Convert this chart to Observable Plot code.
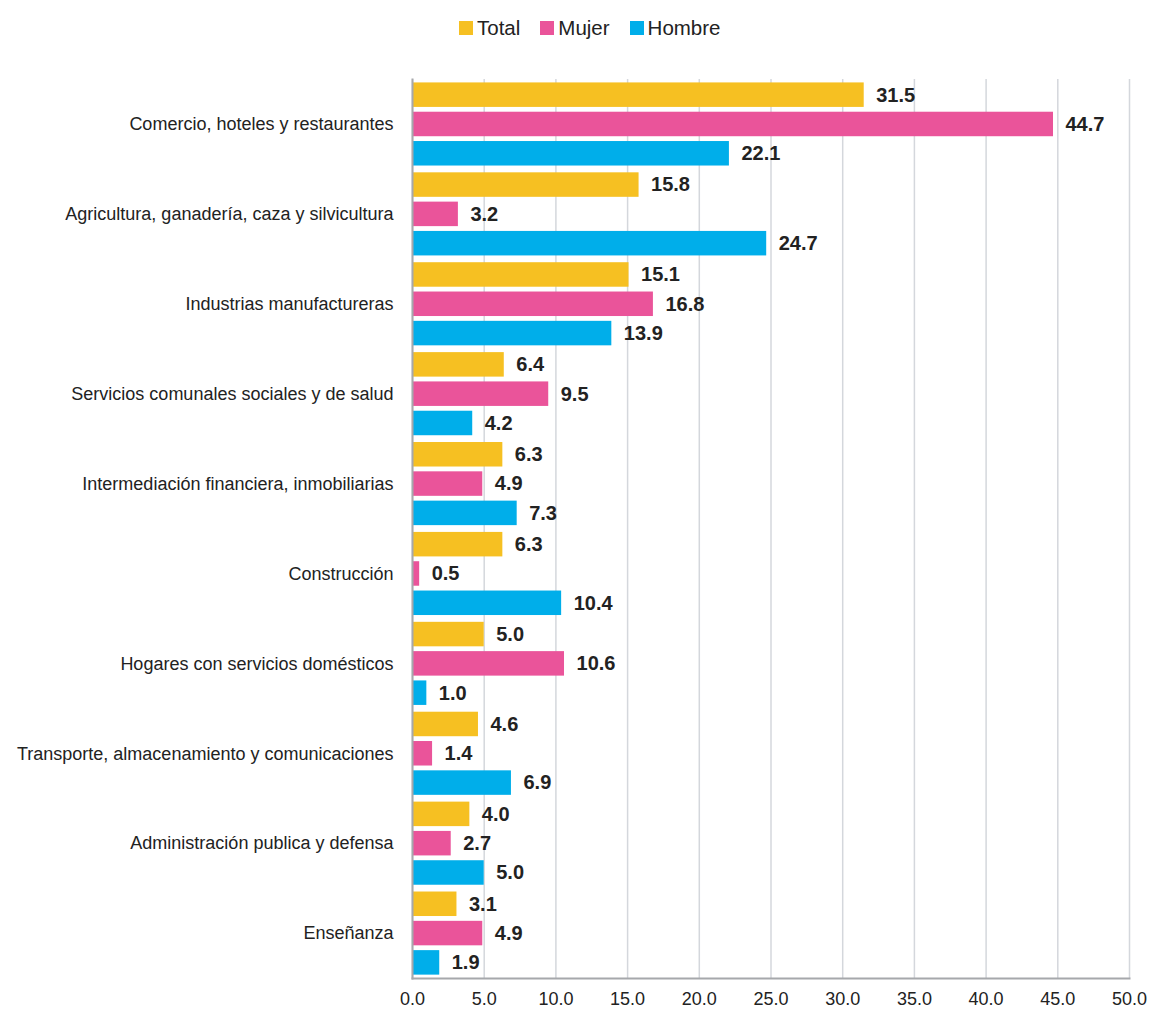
<!DOCTYPE html>
<html>
<head>
<meta charset="utf-8">
<script src="https://cdn.jsdelivr.net/npm/d3@7"></script>
<script src="https://cdn.jsdelivr.net/npm/@observablehq/plot@0.6"></script>
<style>
  body { margin: 0; background: #fff; font-family: "Liberation Sans Narrow", "Liberation Sans", Arial, sans-serif; }
  #wrap { position: relative; width: 1149px; height: 1018px; }
  #chart { position: absolute; top: 0; left: 0; z-index: 0; }
  #legend { position: absolute; top: 16px; left: 459px; z-index: 2; display: flex; align-items: center; font-size: 20.5px; color: #222; white-space: nowrap; }
  .item { display: flex; align-items: center; margin-right: 20px; }
  .sw { width: 14px; height: 14px; margin-right: 4px; }
</style>
</head>
<body>
<div id="wrap">
  <div id="chart"></div>
  <div id="legend"></div>
</div>
<script>
const categories = [
  "Comercio, hoteles y restaurantes",
  "Agricultura, ganadería, caza y silvicultura",
  "Industrias manufactureras",
  "Servicios comunales sociales y de salud",
  "Intermediación financiera, inmobiliarias",
  "Construcción",
  "Hogares con servicios domésticos",
  "Transporte, almacenamiento y comunicaciones",
  "Administración publica y defensa",
  "Enseñanza"
];
const series = ["Total", "Mujer", "Hombre"];
const colors = ["#F6C022", "#EA549A", "#00AEEA"];
const total  = [31.5, 15.8, 15.1, 6.4, 6.3, 6.3, 5.0, 4.6, 4.0, 3.1];
const mujer  = [44.7, 3.2, 16.8, 9.5, 4.9, 0.5, 10.6, 1.4, 2.7, 4.9];
const hombre = [22.1, 24.7, 13.9, 4.2, 7.3, 10.4, 1.0, 6.9, 5.0, 1.9];
const xTicks = [0, 5, 10, 15, 20, 25, 30, 35, 40, 45, 50];

const valuesBySeries = [total, mujer, hombre];
const data = [];
categories.forEach((c, i) => series.forEach((s, j) => data.push({cat: c, series: s, value: valuesBySeries[j][i]})));

const W = 1149, H = 1018, mt = 79, mb = 40, ml = 412, mr = 20;
const band = (H - mt - mb) / categories.length;
const barH = band * 0.2725, step = band * 0.326, top0 = band * 0.038;

const font = '"Liberation Sans Narrow", "Liberation Sans", Arial, sans-serif';

const marks = [
  Plot.gridX(xTicks, {stroke: "#d4d7dc", strokeOpacity: 1, strokeWidth: 1.5})
];
series.forEach((s, j) => {
  const it = top0 + j * step;
  const ib = band - it - barH;
  const sub = data.filter(d => d.series === s);
  marks.push(Plot.barX(sub, {x: "value", y: "cat", fill: colors[j], insetTop: it, insetBottom: ib}));
  marks.push(Plot.text(sub, {
    x: "value", y: "cat", text: d => d.value.toFixed(1),
    dx: 12, dy: it + barH / 2 - band / 2, textAnchor: "start",
    fontWeight: "bold", fontSize: 20, fill: "#222"
  }));
});
marks.push(Plot.frame({anchor: "left", stroke: "#a6a8ab", strokeWidth: 2}));
marks.push(Plot.frame({anchor: "bottom", stroke: "#a6a8ab", strokeWidth: 2}));
marks.push(Plot.axisX({ticks: xTicks, tickFormat: d3.format(".1f"), tickSize: 0, tickPadding: 14, fontSize: 18, label: null, fill: "#222"}));
marks.push(Plot.axisY({tickSize: 0, tickPadding: 19, fontSize: 18, label: null, fill: "#222"}));

const chart = Plot.plot({
  width: W, height: H,
  marginTop: mt, marginBottom: mb, marginLeft: ml, marginRight: mr,
  style: {fontFamily: font, background: "white"},
  x: {domain: [0, 50]},
  y: {domain: categories, padding: 0, round: false},
  marks
});
document.getElementById("chart").appendChild(chart);

const legend = document.getElementById("legend");
series.forEach((s, j) => {
  const it = document.createElement("div");
  it.className = "item";
  it.innerHTML = `<div class="sw" style="background:${colors[j]}"></div><span>${s}</span>`;
  legend.appendChild(it);
});
</script>
</body>
</html>
